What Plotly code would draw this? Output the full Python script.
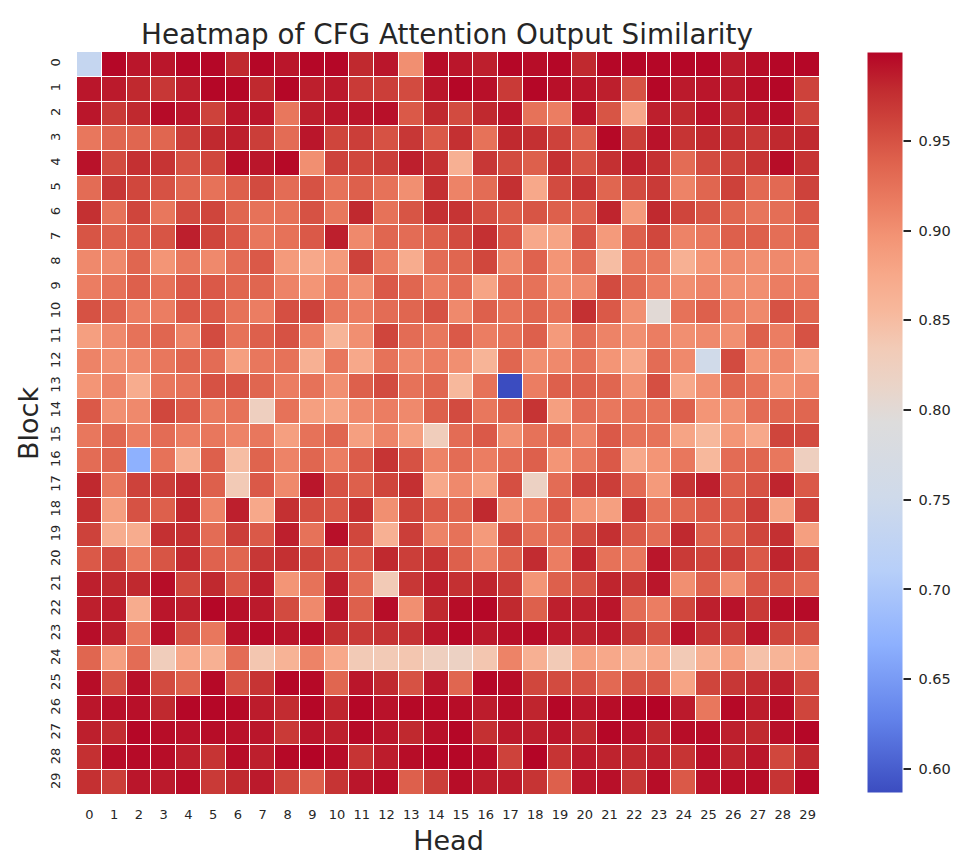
import plotly.graph_objects as go

heads = list(range(30))
blocks = list(range(30))
title_text = "Heatmap of CFG Attention Output Similarity"

similarity = [
 [.735,.998,.99,.99,.998,.998,.98,.998,.99,.998,.998,.98,.99,.90,.995,.99,.985,.998,.995,.998,.98,.998,.998,.998,.998,.998,.988,.995,.998,.998],
 [.99,.988,.98,.97,.985,.998,.998,.98,.998,.985,.988,.968,.965,.955,.99,.998,.993,.968,.998,.993,.99,.985,.95,.998,.988,.99,.988,.995,.998,.962],
 [.99,.968,.98,.996,.99,.962,.99,.99,.92,.985,.99,.99,.993,.945,.98,.955,.98,.99,.925,.915,.99,.948,.875,.985,.98,.992,.98,.99,.995,.962],
 [.92,.935,.935,.935,.965,.98,.985,.965,.93,.99,.96,.965,.95,.97,.945,.975,.925,.98,.975,.962,.94,.997,.965,.992,.972,.98,.977,.97,.98,.98],
 [.992,.955,.975,.972,.95,.958,.995,.99,.997,.90,.962,.958,.965,.985,.975,.865,.97,.955,.94,.975,.95,.975,.985,.975,.93,.955,.962,.972,.995,.972],
 [.93,.97,.958,.95,.935,.925,.94,.955,.93,.95,.925,.94,.925,.90,.975,.91,.93,.975,.875,.955,.972,.935,.955,.968,.91,.935,.963,.932,.932,.962],
 [.975,.925,.96,.92,.955,.96,.935,.925,.925,.95,.92,.98,.925,.948,.975,.972,.952,.942,.948,.94,.938,.982,.89,.98,.96,.948,.935,.922,.928,.945],
 [.948,.94,.945,.948,.985,.96,.945,.92,.925,.945,.985,.905,.935,.93,.94,.955,.975,.945,.875,.88,.95,.89,.94,.958,.91,.92,.94,.94,.928,.935],
 [.905,.905,.935,.895,.92,.905,.93,.945,.89,.875,.89,.962,.915,.87,.93,.935,.958,.905,.938,.895,.93,.85,.92,.92,.865,.895,.905,.90,.905,.90],
 [.915,.925,.94,.925,.945,.945,.935,.935,.91,.895,.915,.90,.945,.935,.915,.93,.88,.93,.925,.90,.905,.955,.935,.915,.90,.91,.90,.90,.915,.915],
 [.95,.94,.915,.915,.945,.945,.925,.915,.952,.962,.92,.915,.93,.935,.95,.905,.94,.925,.935,.925,.975,.945,.90,.80,.925,.94,.915,.905,.95,.935],
 [.885,.905,.925,.935,.91,.955,.925,.94,.95,.915,.86,.90,.96,.93,.92,.945,.915,.925,.94,.89,.93,.91,.90,.915,.90,.905,.90,.94,.915,.95],
 [.91,.90,.905,.92,.935,.93,.885,.92,.925,.865,.92,.875,.925,.905,.915,.90,.86,.935,.90,.905,.925,.895,.875,.93,.905,.755,.955,.895,.905,.875],
 [.895,.91,.87,.92,.925,.95,.95,.935,.915,.925,.90,.94,.955,.925,.935,.855,.925,.5866,.915,.94,.94,.935,.90,.952,.875,.90,.935,.925,.895,.905],
 [.945,.90,.905,.958,.945,.918,.925,.825,.925,.885,.88,.905,.915,.905,.94,.955,.92,.94,.972,.885,.93,.92,.925,.925,.94,.895,.90,.93,.935,.935],
 [.92,.935,.915,.93,.915,.92,.91,.92,.885,.925,.935,.885,.91,.885,.83,.93,.945,.90,.925,.935,.91,.945,.925,.925,.88,.855,.895,.875,.96,.955],
 [.93,.935,.67,.925,.865,.94,.85,.937,.91,.935,.915,.943,.972,.95,.91,.93,.915,.93,.94,.895,.92,.945,.875,.895,.92,.855,.93,.935,.92,.825],
 [.98,.92,.962,.965,.978,.94,.835,.945,.905,.99,.95,.94,.96,.975,.875,.905,.885,.952,.82,.93,.962,.965,.932,.89,.972,.985,.94,.95,.982,.945],
 [.975,.885,.95,.94,.98,.91,.985,.875,.975,.953,.945,.975,.90,.96,.945,.935,.98,.90,.915,.945,.895,.885,.972,.925,.935,.945,.945,.968,.88,.965],
 [.962,.87,.87,.975,.975,.93,.965,.945,.985,.925,.993,.958,.865,.965,.91,.925,.89,.955,.925,.93,.955,.975,.945,.93,.98,.94,.94,.96,.975,.885],
 [.945,.955,.92,.948,.978,.938,.935,.97,.975,.96,.948,.945,.98,.965,.972,.94,.91,.94,.978,.915,.982,.925,.92,.99,.968,.96,.965,.945,.982,.958],
 [.985,.98,.98,.995,.958,.98,.945,.985,.895,.925,.985,.93,.835,.97,.985,.975,.982,.968,.895,.94,.95,.982,.972,.99,.90,.94,.90,.945,.945,.93],
 [.985,.987,.87,.99,.985,.998,.993,.988,.955,.905,.99,.94,.995,.90,.98,.995,.998,.98,.94,.985,.985,.99,.93,.915,.958,.985,.992,.968,.995,.996],
 [.994,.985,.92,.993,.95,.92,.992,.996,.99,.995,.975,.968,.973,.973,.99,.997,.988,.993,.995,.988,.983,.988,.968,.95,.992,.972,.968,.992,.96,.95],
 [.935,.885,.93,.83,.875,.865,.93,.84,.862,.91,.875,.835,.835,.84,.825,.82,.84,.91,.865,.835,.885,.875,.86,.875,.835,.865,.885,.845,.86,.87],
 [.995,.95,.993,.955,.94,.997,.95,.972,.998,.997,.935,.99,.98,.95,.99,.935,.998,.995,.958,.955,.952,.932,.95,.95,.88,.96,.97,.978,.985,.955],
 [.99,.993,.993,.98,.998,.998,.997,.987,.978,.998,.982,.998,.992,.997,.997,.995,.987,.995,.982,.998,.99,.995,.998,.9995,.988,.92,.997,.987,.995,.96],
 [.985,.978,.998,.995,.992,.995,.992,.99,.968,.99,.985,.996,.99,.98,.993,.998,.975,.988,.985,.99,.98,.998,.992,.98,.995,.995,.985,.98,.993,.998],
 [.975,.995,.996,.995,.985,.972,.995,.985,.997,.9995,.995,.972,.987,.995,.998,.998,.995,.962,.999,.972,.988,.983,.98,.985,.972,.993,.983,.99,.958,.98],
 [.975,.965,.99,.988,.995,.968,.98,.988,.96,.94,.972,.99,.995,.94,.965,.995,.987,.987,.972,.94,.99,.993,.97,.995,.945,.992,.995,.995,.972,.998],
]

coolwarm = [
 [0.0,"#3b4cc0"],[0.1,"#6282ea"],[0.2,"#8db0fe"],[0.3,"#b7cff9"],[0.4,"#cfdaea"],[0.5,"#dddcdc"],
 [0.55,"#ead4c8"],[0.6,"#f2cbb7"],[0.65,"#f7b89c"],[0.7,"#f7a889"],[0.75,"#f39475"],[0.8,"#ea7b60"],
 [0.85,"#df634e"],[0.9,"#d0473d"],[0.95,"#c12b30"],[1.0,"#b40426"],
]

ink = "#262626"
fig = go.Figure(go.Heatmap(
    z=similarity, x=heads, y=blocks, colorscale=coolwarm, zmin=0.5866, zmax=0.9995,
    xgap=1, ygap=1,
    colorbar=dict(
        thickness=36, thicknessmode="pixels", len=741, lenmode="pixels",
        x=1.0633, xanchor="left", xpad=0, y=1, yanchor="top", yref="paper", ypad=0,
        outlinewidth=1, outlinecolor="white", borderwidth=0, tickmode="linear", tick0=0.6, dtick=0.05,
        tickformat=".2f", ticklabelposition="outside",
        ticks="outside", ticklen=8, tickwidth=1.5, tickcolor=ink,
        showticklabels=True, tickprefix="\u00a0",
        tickfont=dict(family="DejaVu Sans", size=14.5, color=ink),
    ),
))
fig.update_layout(
    width=972, height=855, autosize=False,
    margin=dict(l=69, r=160, t=44, b=68, pad=0),
    paper_bgcolor="white", plot_bgcolor="white",
    font=dict(family="DejaVu Sans", color=ink),
    title=dict(text=title_text, font=dict(family="DejaVu Sans", size=27.8, color=ink),
               x=0.498, xanchor="center", xref="paper", y=0.9696, yanchor="middle"),
)
fig.update_xaxes(title=dict(text="Head", font=dict(size=27, color=ink), standoff=10),
                 tickmode="array", tickvals=heads, ticktext=[str(h) for h in heads],
                 tickfont=dict(size=13, color=ink), tickangle=0, ticks="", ticklabelstandoff=10,
                 showgrid=False, zeroline=False, showline=False, range=[-0.5, 29.5], constrain="domain")
fig.update_yaxes(title=dict(text="Block", font=dict(size=27, color=ink), standoff=1),
                 tickmode="array", tickvals=blocks, ticktext=[str(b) for b in blocks],
                 tickfont=dict(size=13, color=ink), tickangle=-90, ticks="", ticklabelstandoff=13,
                 showgrid=False, zeroline=False, showline=False, range=[29.5, -0.5])
fig.write_html("out.html")
